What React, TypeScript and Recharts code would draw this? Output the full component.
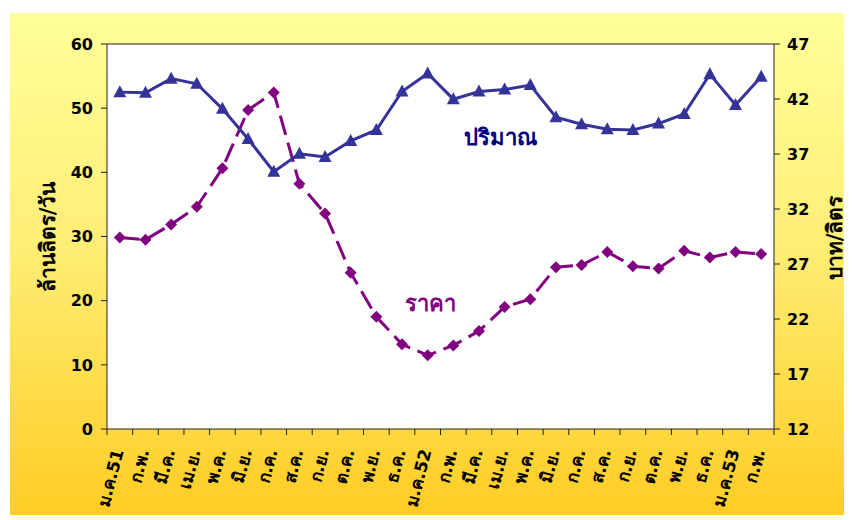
import React from "react";
import {
  LineChart,
  Line,
  XAxis,
  YAxis,
  CartesianGrid,
  ReferenceLine,
} from "recharts";

const months = [
  "ม.ค.51", "ก.พ.", "มี.ค.", "เม.ย.", "พ.ค.", "มิ.ย.", "ก.ค.", "ส.ค.", "ก.ย.", "ต.ค.", "พ.ย.", "ธ.ค.",
  "ม.ค.52", "ก.พ.", "มี.ค.", "เม.ย.", "พ.ค.", "มิ.ย.", "ก.ค.", "ส.ค.", "ก.ย.", "ต.ค.", "พ.ย.", "ธ.ค.",
  "ม.ค.53", "ก.พ.",
];

// ปริมาณ (ล้านลิตร/วัน) - left axis
const volume = [
  52.5, 52.4, 54.6, 53.8, 49.9, 45.2, 40.1, 42.9, 42.4, 44.9, 46.6, 52.6, 55.4,
  51.4, 52.6, 52.9, 53.6, 48.6, 47.5, 46.7, 46.6, 47.6, 49.1, 55.3, 50.5, 54.9,
];

// ราคา (บาท/ลิตร) - right axis
const price = [
  29.4, 29.2, 30.6, 32.2, 35.7, 41.0, 42.6, 34.3, 31.6, 26.2, 22.2, 19.7, 18.7,
  19.6, 20.9, 23.1, 23.8, 26.7, 26.9, 28.1, 26.8, 26.6, 28.2, 27.6, 28.1, 27.9,
];

const leftTicks = [0, 10, 20, 30, 40, 50, 60];
const rightTicks = [12, 17, 22, 27, 32, 37, 42, 47];

const W = 842;
const H = 507;
const LEFT_W = 97;
const RIGHT_W = 78;
const STEP = (W - LEFT_W - RIGHT_W) / months.length;
const FONT = "Tahoma, 'DejaVu Sans', sans-serif";

const data = months.map((m, i) => ({
  pos: i + 0.5,
  month: m,
  volume: volume[i],
  price: price[i],
}));

const boundaryTicks = Array.from({ length: months.length + 1 }, (_, i) => i);

const XTick = (props: any) => {
  const { x, y, payload } = props;
  const i = payload.value;
  if (i >= months.length) return null;
  const cx = x + STEP / 2 + 4;
  const cy = y + 14;
  return (
    <text
      x={cx}
      y={cy}
      transform={`rotate(-75, ${cx}, ${cy})`}
      textAnchor="end"
      fontSize={17}
      fontWeight="bold"
      fontFamily={FONT}
      fill="#000"
    >
      {months[i]}
    </text>
  );
};

const Triangle = (props: any) => {
  const { cx, cy, index } = props;
  if (cx == null || cy == null) return <g key={index} />;
  return (
    <polygon
      key={index}
      points={`${cx},${cy - 7} ${cx - 6.5},${cy + 5} ${cx + 6.5},${cy + 5}`}
      fill="#333399"
    />
  );
};

const Diamond = (props: any) => {
  const { cx, cy, index } = props;
  if (cx == null || cy == null) return <g key={index} />;
  return (
    <polygon
      key={index}
      points={`${cx},${cy - 6} ${cx + 6},${cy} ${cx},${cy + 6} ${cx - 6},${cy}`}
      fill="#800080"
    />
  );
};

const tickStyle = { fontSize: 16, fontWeight: "bold", fill: "#000", fontFamily: FONT };

export default function App() {
  return (
    <div
      style={{
        position: "relative",
        left: 2,
        top: 5,
        width: W,
        height: H,
        background: "linear-gradient(to bottom, #ffff99 0%, #ffee77 45%, #ffcc22 100%)",
      }}
    >
      <LineChart
        width={W}
        height={H}
        data={data}
        margin={{ top: 31, right: 0, left: 0, bottom: 0 }}
      >
        <CartesianGrid fill="#ffffff" horizontal={false} vertical={false} yAxisId="left" />
        <XAxis
          dataKey="pos"
          type="number"
          domain={[0, months.length]}
          ticks={boundaryTicks}
          interval={0}
          height={91}
          tick={<XTick />}
          tickSize={6}
          axisLine={{ stroke: "#222" }}
          tickLine={{ stroke: "#222" }}
        />
        <YAxis
          yAxisId="left"
          domain={[0, 60]}
          ticks={leftTicks}
          width={LEFT_W}
          tickSize={6}
          tick={{ ...tickStyle, dx: -6 }}
          axisLine={{ stroke: "#222" }}
          tickLine={{ stroke: "#222" }}
        />
        <YAxis
          yAxisId="right"
          orientation="right"
          domain={[12, 47]}
          ticks={rightTicks}
          width={RIGHT_W}
          tickSize={6}
          tick={{ ...tickStyle, dx: 5 }}
          axisLine={{ stroke: "#222" }}
          tickLine={{ stroke: "#222" }}
        />
        <ReferenceLine yAxisId="left" y={60} stroke="#222" />
        <Line
          yAxisId="right"
          dataKey="price"
          stroke="#800080"
          strokeWidth={3}
          strokeDasharray="20 8"
          dot={<Diamond />}
          activeDot={false}
          isAnimationActive={false}
        />
        <Line
          yAxisId="left"
          dataKey="volume"
          stroke="#333399"
          strokeWidth={3}
          dot={<Triangle />}
          activeDot={false}
          isAnimationActive={false}
        />
      </LineChart>
      <svg
        width={W}
        height={H}
        style={{ position: "absolute", left: 0, top: 0, pointerEvents: "none" }}
      >
        <text
          x={38}
          y={224}
          transform="rotate(-90, 38, 224)"
          textAnchor="middle"
          dominantBaseline="central"
          fontSize={21}
          fontWeight="bold"
          fontFamily={FONT}
          fill="#000"
        >
          ล้านลิตร/วัน
        </text>
        <text
          x={825}
          y={225}
          transform="rotate(-90, 825, 225)"
          textAnchor="middle"
          dominantBaseline="central"
          fontSize={21}
          fontWeight="bold"
          fontFamily={FONT}
          fill="#000"
        >
          บาท/ลิตร
        </text>
        <text
          x={490}
          y={132}
          textAnchor="middle"
          fontSize={22}
          fontWeight="bold"
          fontFamily={FONT}
          fill="#000080"
        >
          ปริมาณ
        </text>
        <text
          x={420}
          y={298}
          textAnchor="middle"
          fontSize={22}
          fontWeight="bold"
          fontFamily={FONT}
          fill="#800080"
        >
          ราคา
        </text>
      </svg>
    </div>
  );
}
